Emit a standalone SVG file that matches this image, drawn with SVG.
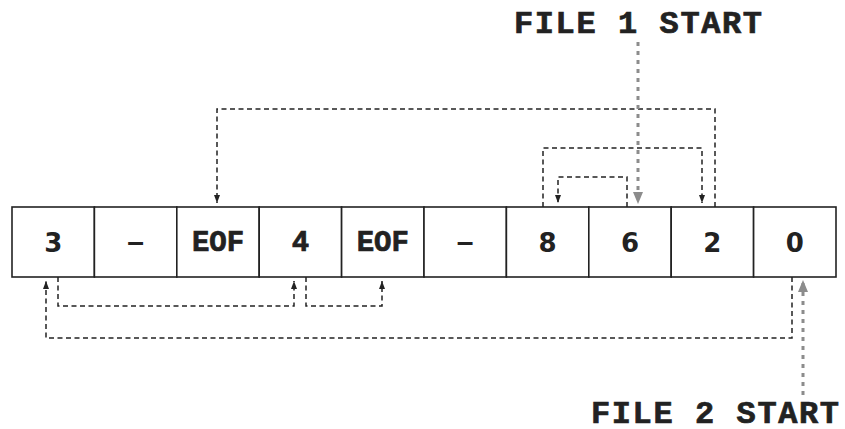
<svg xmlns="http://www.w3.org/2000/svg" width="845" height="429" viewBox="0 0 845 429">
<style>
.cell{fill:#fff;stroke:#222;stroke-width:1.6}
.num{font-family:"DejaVu Sans","Liberation Sans",sans-serif;font-weight:bold;font-size:26px;fill:#222;text-anchor:middle}
.en{font-family:"Liberation Sans",Arial,sans-serif;font-weight:bold;font-size:30px;fill:#222;text-anchor:middle}
.mono{font-family:"Liberation Mono","DejaVu Sans Mono",monospace;font-weight:bold;fill:#222;stroke:#222;stroke-width:0.7}
.eof{font-size:29px;text-anchor:middle}
.lbl{font-size:32px;letter-spacing:1.6px}
.dash{fill:none;stroke:#222;stroke-width:1.5;stroke-dasharray:5 3.5}
.dot{fill:none;stroke:#8c8c8c;stroke-width:3;stroke-dasharray:4 5}
</style>
<defs>
<marker id="ab" viewBox="0 0 10 10" refX="10" refY="5" markerWidth="8" markerHeight="6" markerUnits="userSpaceOnUse" orient="auto" preserveAspectRatio="none"><path d="M0,0 L10,5 L0,10 z" fill="#222"/></marker>
<marker id="ag" viewBox="0 0 10 10" refX="10" refY="5" markerWidth="12" markerHeight="10" markerUnits="userSpaceOnUse" orient="auto" preserveAspectRatio="none"><path d="M0,0 L10,5 L0,10 z" fill="#8c8c8c"/></marker>
</defs>
<g id="cell0"><rect class="cell" x="12" y="207" width="82.4" height="70"/><text class="num" x="53.2" y="252">3</text></g>
<g id="cell1"><rect class="cell" x="94.4" y="207" width="82.4" height="70"/><text class="en" x="135.6" y="252">–</text></g>
<g id="cell2"><rect class="cell" x="176.8" y="207" width="82.4" height="70"/><text class="mono eof" x="218" y="251">EOF</text></g>
<g id="cell3"><rect class="cell" x="259.2" y="207" width="82.4" height="70"/><text class="mono eof" x="300.4" y="251">4</text></g>
<g id="cell4"><rect class="cell" x="341.6" y="207" width="82.4" height="70"/><text class="mono eof" x="382.8" y="251">EOF</text></g>
<g id="cell5"><rect class="cell" x="424" y="207" width="82.4" height="70"/><text class="en" x="465.2" y="252">–</text></g>
<g id="cell6"><rect class="cell" x="506.4" y="207" width="82.4" height="70"/><text class="num" x="547.6" y="252">8</text></g>
<g id="cell7"><rect class="cell" x="588.8" y="207" width="82.4" height="70"/><text class="num" x="630" y="252">6</text></g>
<g id="cell8"><rect class="cell" x="671.2" y="207" width="82.4" height="70"/><text class="num" x="712.4" y="252">2</text></g>
<g id="cell9"><rect class="cell" x="753.6" y="207" width="82.4" height="70"/><text class="num" x="794.8" y="252">0</text></g>
<g id="file1"><text class="mono lbl" x="514" y="33">FILE 1 START</text></g>
<g id="file2"><text class="mono lbl" x="591" y="423">FILE 2 START</text></g>
<g id="connectors">
<path class="dash" d="M715,207 V109 H217 V203" marker-end="url(#ab)"/>
<path class="dash" d="M543,207 V148 H702 V203" marker-end="url(#ab)"/>
<path class="dash" d="M627,207 V177 H558 V203" marker-end="url(#ab)"/>
<path class="dash" d="M58,277 V306 H294 V281" marker-end="url(#ab)"/>
<path class="dash" d="M306,277 V306 H382 V281" marker-end="url(#ab)"/>
<path class="dash" d="M792,277 V338 H46 V281" marker-end="url(#ab)"/>
<path class="dot" d="M638,42 V204" marker-end="url(#ag)"/>
<path class="dot" d="M803,395 V280" marker-end="url(#ag)"/>
</g>
</svg>
